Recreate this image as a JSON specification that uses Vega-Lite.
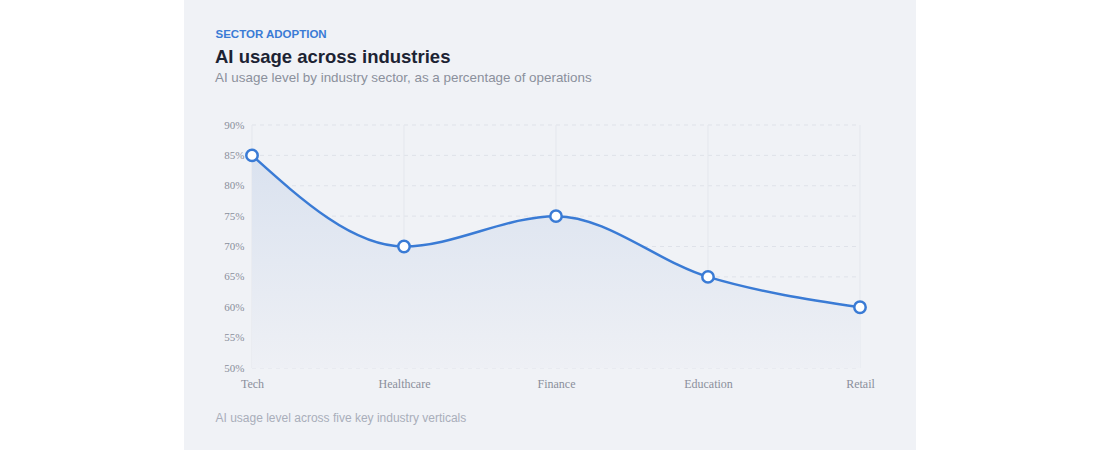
{
  "$schema": "https://vega.github.io/schema/vega-lite/v6.json",
  "width": 732,
  "height": 450,
  "autosize": {"type": "none"},
  "padding": {"left": 184, "right": 184, "top": 0, "bottom": 0},
  "background": "#ffffff",
  "config": {
    "view": {"fill": "#f0f2f6", "stroke": null},
    "font": "Liberation Sans"
  },
  "title": {
    "text": "AI usage across industries",
    "subtitle": "AI usage level by industry sector, as a percentage of operations",
    "anchor": "start",
    "frame": "group",
    "dx": 31,
    "offset": -84,
    "font": "Liberation Sans",
    "fontSize": 18.5,
    "fontWeight": "bold",
    "color": "#1c2333",
    "subtitleFont": "Liberation Sans",
    "subtitleFontSize": 13.4,
    "subtitleColor": "#8b909c",
    "subtitlePadding": 4
  },
  "data": {
    "values": [
      {"sector": "Tech", "usage": 85},
      {"sector": "Healthcare", "usage": 70},
      {"sector": "Finance", "usage": 75},
      {"sector": "Education", "usage": 65},
      {"sector": "Retail", "usage": 60}
    ]
  },
  "encoding": {
    "y": {
      "field": "usage",
      "type": "quantitative",
      "scale": {"domain": [50, 90], "range": [368, 125], "nice": false, "zero": false},
      "axis": {
        "orient": "left",
        "offset": -68,
        "values": [50, 55, 60, 65, 70, 75, 80, 85, 90],
        "labelExpr": "datum.value + '%'",
        "domain": false,
        "ticks": false,
        "grid": false,
        "labelPadding": 8,
        "labelFont": "Liberation Serif",
        "labelFontSize": 11,
        "labelColor": "#8a8f9b",
        "title": null
      }
    }
  },
  "layer": [
    {
      "data": {"values": [{"tick": 50}, {"tick": 55}, {"tick": 60}, {"tick": 65}, {"tick": 70}, {"tick": 75}, {"tick": 80}, {"tick": 85}, {"tick": 90}]},
      "mark": {"type": "rule", "color": "#dfe2e9", "strokeWidth": 1, "strokeDash": [4, 4]},
      "encoding": {
        "x": {"datum": "Tech", "type": "nominal", "axis": null},
        "x2": {"datum": "Retail"},
        "y": {"field": "tick", "type": "quantitative"}
      }
    },
    {
      "mark": {"type": "rule", "color": "#e4e7ed", "strokeWidth": 1},
      "encoding": {
        "x": {"field": "sector", "type": "nominal", "sort": null, "axis": null},
        "y": {"datum": 50, "type": "quantitative"},
        "y2": {"datum": 90}
      }
    },
    {
      "mark": {
        "type": "area",
        "interpolate": "monotone",
        "color": {
          "gradient": "linear",
          "x1": 0, "y1": 0, "x2": 0, "y2": 1,
          "stops": [
            {"offset": 0, "color": "#dae2ef"},
            {"offset": 1, "color": "#eef0f5"}
          ]
        }
      },
      "encoding": {
        "x": {
          "field": "sector",
          "type": "nominal",
          "sort": null,
          "scale": {
            "type": "point",
            "domain": ["Tech", "Healthcare", "Finance", "Education", "Retail"],
            "range": [68, 676],
            "padding": 0
          },
          "axis": {
            "orient": "bottom",
            "offset": -82,
            "domain": false,
            "ticks": false,
            "grid": false,
            "labelAngle": 0,
            "labelPadding": 10,
            "labelFont": "Liberation Serif",
            "labelFontSize": 12,
            "labelColor": "#8a8f9b",
            "title": "AI usage level across five key industry verticals",
            "titleX": 31,
            "titleY": 49,
            "titleAlign": "left",
            "titleBaseline": "middle",
            "titleFont": "Liberation Sans",
            "titleFontSize": 12,
            "titleFontWeight": "normal",
            "titleColor": "#a9aeba"
          }
        },
        "y2": {"datum": 50}
      }
    },
    {
      "mark": {"type": "line", "interpolate": "monotone", "color": "#3a7bd5", "strokeWidth": 2.5},
      "encoding": {
        "x": {
          "field": "sector",
          "type": "nominal",
          "sort": null,
          "axis": {
            "orient": "top",
            "labels": false,
            "ticks": false,
            "domain": false,
            "grid": false,
            "title": "SECTOR ADOPTION",
            "titleX": 31,
            "titleY": 34,
            "titleAlign": "left",
            "titleBaseline": "middle",
            "titleFont": "Liberation Sans",
            "titleFontSize": 11.5,
            "titleFontWeight": "bold",
            "titleColor": "#3a7bd5"
          }
        }
      }
    },
    {
      "mark": {"type": "circle", "fill": "#ffffff", "stroke": "#3a7bd5", "strokeWidth": 2.5, "size": 130, "opacity": 1},
      "encoding": {
        "x": {"field": "sector", "type": "nominal", "sort": null, "axis": null}
      }
    }
  ],
  "resolve": {"axis": {"x": "independent"}}
}
